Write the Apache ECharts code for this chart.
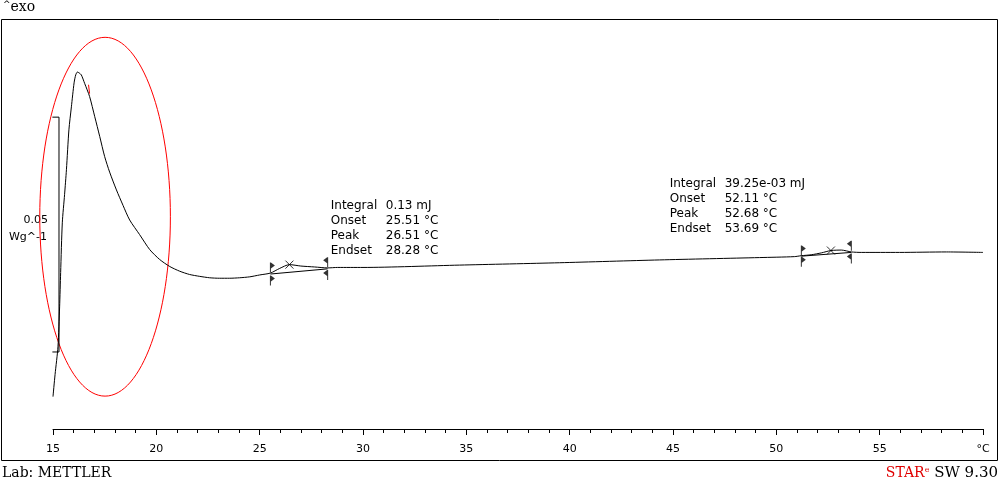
<!DOCTYPE html>
<html>
<head>
<meta charset="utf-8">
<title>DSC curve</title>
<script src="https://cdn.jsdelivr.net/npm/echarts@6/dist/echarts.min.js"></script>
<style>
  html, body { margin: 0; padding: 0; background: #fff; }
  #chart-dsc { width: 1000px; height: 481px; }
</style>
</head>
<body>
<div id="chart-dsc"></div>
<script>
'use strict';

// temperature (°C) and heat flow (mW/g, arbitrary offset)
var tempCurve = [15.00, 15.10, 15.24, 15.32, 15.37, 15.45, 15.56, 15.65, 15.77, 15.89,
    16.02, 16.10, 16.18, 16.27, 16.37, 16.53, 16.77, 17.02, 17.26, 17.50,
    17.74, 18.07, 18.39, 18.71, 19.19, 19.68, 20.16, 20.65, 21.13, 21.61,
    22.10, 22.58, 23.06, 23.55, 24.03, 24.52, 25.00, 25.52, 25.97, 26.44,
    26.99, 27.66, 28.29, 28.77, 30.00, 34.67, 39.50, 44.34, 49.18, 50.87,
    51.21, 51.69, 52.18, 52.64, 53.15, 53.63, 54.11, 55.96, 58.23, 60.00];
var heatCurve = [6.9, 11.6, 17.5, 26.0, 33.3, 43.9, 49.9, 55.2, 63.7, 68.6,
    73.7, 75.4, 76.0, 75.8, 75.4, 73.6, 70.8, 66.5, 62.3, 58.0,
    54.7, 50.9, 47.6, 44.5, 41.4, 38.2, 36.1, 34.6, 33.6, 32.9,
    32.5, 32.2, 32.1, 32.1, 32.2, 32.4, 32.8, 33.2, 34.2, 35.0,
    34.7, 34.5, 34.3, 34.4, 34.4, 34.9, 35.4, 36.0, 36.5, 36.7,
    36.9, 37.1, 37.5, 38.0, 38.1, 37.7, 37.6, 37.6, 37.7, 37.6];

// integration baselines
var baseline1 = [[25.52, 33.0], [28.29, 34.1]];
var baseline2 = [[51.21, 36.8], [53.63, 37.6]];

// onset / endset flags
var flagX = [25.52, 28.29, 51.21, 53.63];
var flagTop = [34.4, 35.5, 38.0, 39.0];
var flagBottom = [31.6, 32.8, 35.6, 36.3];
var flagDir = [1, -1, 1, -1];

// peak crosses
var peakX = [26.44, 52.64];
var peakY = [35.0, 38.0];

// scale bar: 0.05 W/g = 50 mW/g
var scaleBar = [[14.97, 66.4], [15.29, 66.4], [15.29, 16.4], [14.97, 16.4]];

// red integration limits
var redStart = [[14.93, 8.1], [14.85, 8.1], [14.85, 6.3], [14.93, 6.3]];
var redEnd = [[16.72, 73.3], [16.77, 73.3], [16.77, 71.4]];

// red ellipse around the first peak: center and radii in data units
var ellipseCenter = [17.52, 45.2];
var ellipseRadius = [3.16, 38.2];

// evaluation texts
var annoLabels = ['Integral', 'Onset', 'Peak', 'Endset'];
var annoValues1 = ['0.13 mJ', '25.51 °C', '26.51 °C', '28.28 °C'];
var annoValues2 = ['39.25e-03 mJ', '52.11 °C', '52.68 °C', '53.69 °C'];
var annoAnchor = [[28.44, 47.5], [44.84, 52.2]];

var xTicks = { min: 15, max: 60, interval: 5, unitLabel: '°C' };

var curve = tempCurve.map(function (t, i) { return [t, heatCurve[i]]; });

var flagRight = 'path://M0,0 L1,0 L5,3 L1,6 L1,10 L0,10 Z';
var flagLeft = 'path://M5,0 L4,0 L0,3 L4,6 L4,10 L5,10 Z';
var flags = [];
flagX.forEach(function (x, i) {
    [flagTop[i], flagBottom[i]].forEach(function (y) {
        flags.push({
            value: [x, y],
            symbol: flagDir[i] > 0 ? flagRight : flagLeft,
            symbolOffset: [flagDir[i] > 0 ? 2 : -2, 0]
        });
    });
});

var chartDsc = echarts.init(document.getElementById('chart-dsc'));
chartDsc.setOption({
    animation: false,
    backgroundColor: '#fff',
    grid: { left: 53, right: 17, top: 19, bottom: 52 },
    xAxis: {
        type: 'value',
        min: xTicks.min,
        max: xTicks.max,
        interval: xTicks.interval,
        axisLine: { lineStyle: { color: '#000', width: 1 } },
        axisTick: { length: 6, lineStyle: { color: '#000' } },
        minorTick: { show: true, splitNumber: 5, length: 4, lineStyle: { color: '#000' } },
        splitLine: { show: false },
        axisLabel: {
            color: '#000',
            fontFamily: 'DejaVu Sans',
            fontSize: 11,
            margin: 15,
            formatter: function (v) { return v === xTicks.max ? xTicks.unitLabel : String(v); }
        }
    },
    yAxis: { type: 'value', min: 0, max: 87.3, show: false },
    graphic: [
        { type: 'rect', shape: { x: 1.5, y: 19.5, width: 996, height: 441 },
          style: { fill: 'none', stroke: '#000', lineWidth: 1 }, silent: true },
        { type: 'text', left: 3, top: 0,
          style: { text: '{c|^}{t|exo}', rich: {
              c: { fontFamily: 'DejaVu Sans', fontSize: 9, fill: '#000', verticalAlign: 'top' },
              t: { fontFamily: 'DejaVu Serif', fontSize: 14, fill: '#000' } } } },
        { type: 'text', x: 48, y: 220,
          style: { text: '0.05', fontFamily: 'DejaVu Sans', fontSize: 11, fill: '#000', align: 'right', verticalAlign: 'middle' } },
        { type: 'text', x: 47, y: 237,
          style: { text: 'Wg^-1', fontFamily: 'DejaVu Sans', fontSize: 11, fill: '#000', align: 'right', verticalAlign: 'middle' } },
        { type: 'text', x: 2, y: 473,
          style: { text: 'Lab: METTLER', fontFamily: 'DejaVu Serif', fontSize: 14, fill: '#000', verticalAlign: 'middle' } },
        { type: 'text', x: 998, y: 473,
          style: { text: '{r|STAR}{s|e}{b| SW 9.30}', align: 'right', verticalAlign: 'middle', rich: {
              r: { fontFamily: 'DejaVu Serif', fontSize: 14, fill: '#e00000' },
              s: { fontFamily: 'DejaVu Serif', fontSize: 8, fill: '#e00000', verticalAlign: 'top' },
              b: { fontFamily: 'DejaVu Serif', fontSize: 15, fill: '#000' } } } }
    ],
    series: [
        {
            name: 'DSC',
            type: 'line',
            data: curve,
            showSymbol: false,
            smooth: 0.25,
            lineStyle: { color: '#000', width: 1 }
        },
        {
            type: 'line', data: baseline1, showSymbol: false,
            lineStyle: { color: '#000', width: 1 }
        },
        {
            type: 'line', data: baseline2, showSymbol: false,
            lineStyle: { color: '#000', width: 1 }
        },
        {
            type: 'line', data: scaleBar, showSymbol: false, clip: false,
            lineStyle: { color: '#000', width: 1 }
        },
        {
            type: 'line', data: redStart, showSymbol: false, clip: false,
            lineStyle: { color: '#ff0000', width: 1 }
        },
        {
            type: 'line', data: redEnd, showSymbol: false, clip: false,
            lineStyle: { color: '#ff0000', width: 1 }
        },
        {
            type: 'scatter',
            data: flags,
            symbolSize: [5, 10],
            itemStyle: { color: '#000' }
        },
        {
            type: 'scatter',
            data: peakX.map(function (x, i) { return [x, peakY[i]]; }),
            symbol: 'path://M0,0 L8,8 M8,0 L0,8',
            symbolSize: 8,
            itemStyle: { color: 'none', borderColor: '#000', borderWidth: 1 }
        },
        {
            type: 'custom',
            clip: false,
            data: [ellipseCenter.concat(ellipseRadius)],
            renderItem: function (params, api) {
                var c = api.coord([api.value(0), api.value(1)]);
                var s = api.size([api.value(2), api.value(3)]);
                return {
                    type: 'ellipse',
                    shape: { cx: c[0], cy: c[1], rx: s[0], ry: s[1] },
                    style: { fill: 'none', stroke: '#ff0000', lineWidth: 1 }
                };
            }
        },
        {
            type: 'custom',
            clip: false,
            data: annoAnchor,
            renderItem: function (params, api) {
                var p = api.coord([api.value(0), api.value(1)]);
                var vals = params.dataIndex === 0 ? annoValues1 : annoValues2;
                var kids = [];
                annoLabels.forEach(function (lab, i) {
                    kids.push({ type: 'text', x: p[0], y: p[1] + i * 15,
                        style: { text: lab, font: '12px "DejaVu Sans"', fill: '#000', verticalAlign: 'middle' } });
                    kids.push({ type: 'text', x: p[0] + 55, y: p[1] + i * 15,
                        style: { text: vals[i], font: '12px "DejaVu Sans"', fill: '#000', verticalAlign: 'middle' } });
                });
                return { type: 'group', children: kids };
            }
        }
    ]
});
</script>
</body>
</html>
